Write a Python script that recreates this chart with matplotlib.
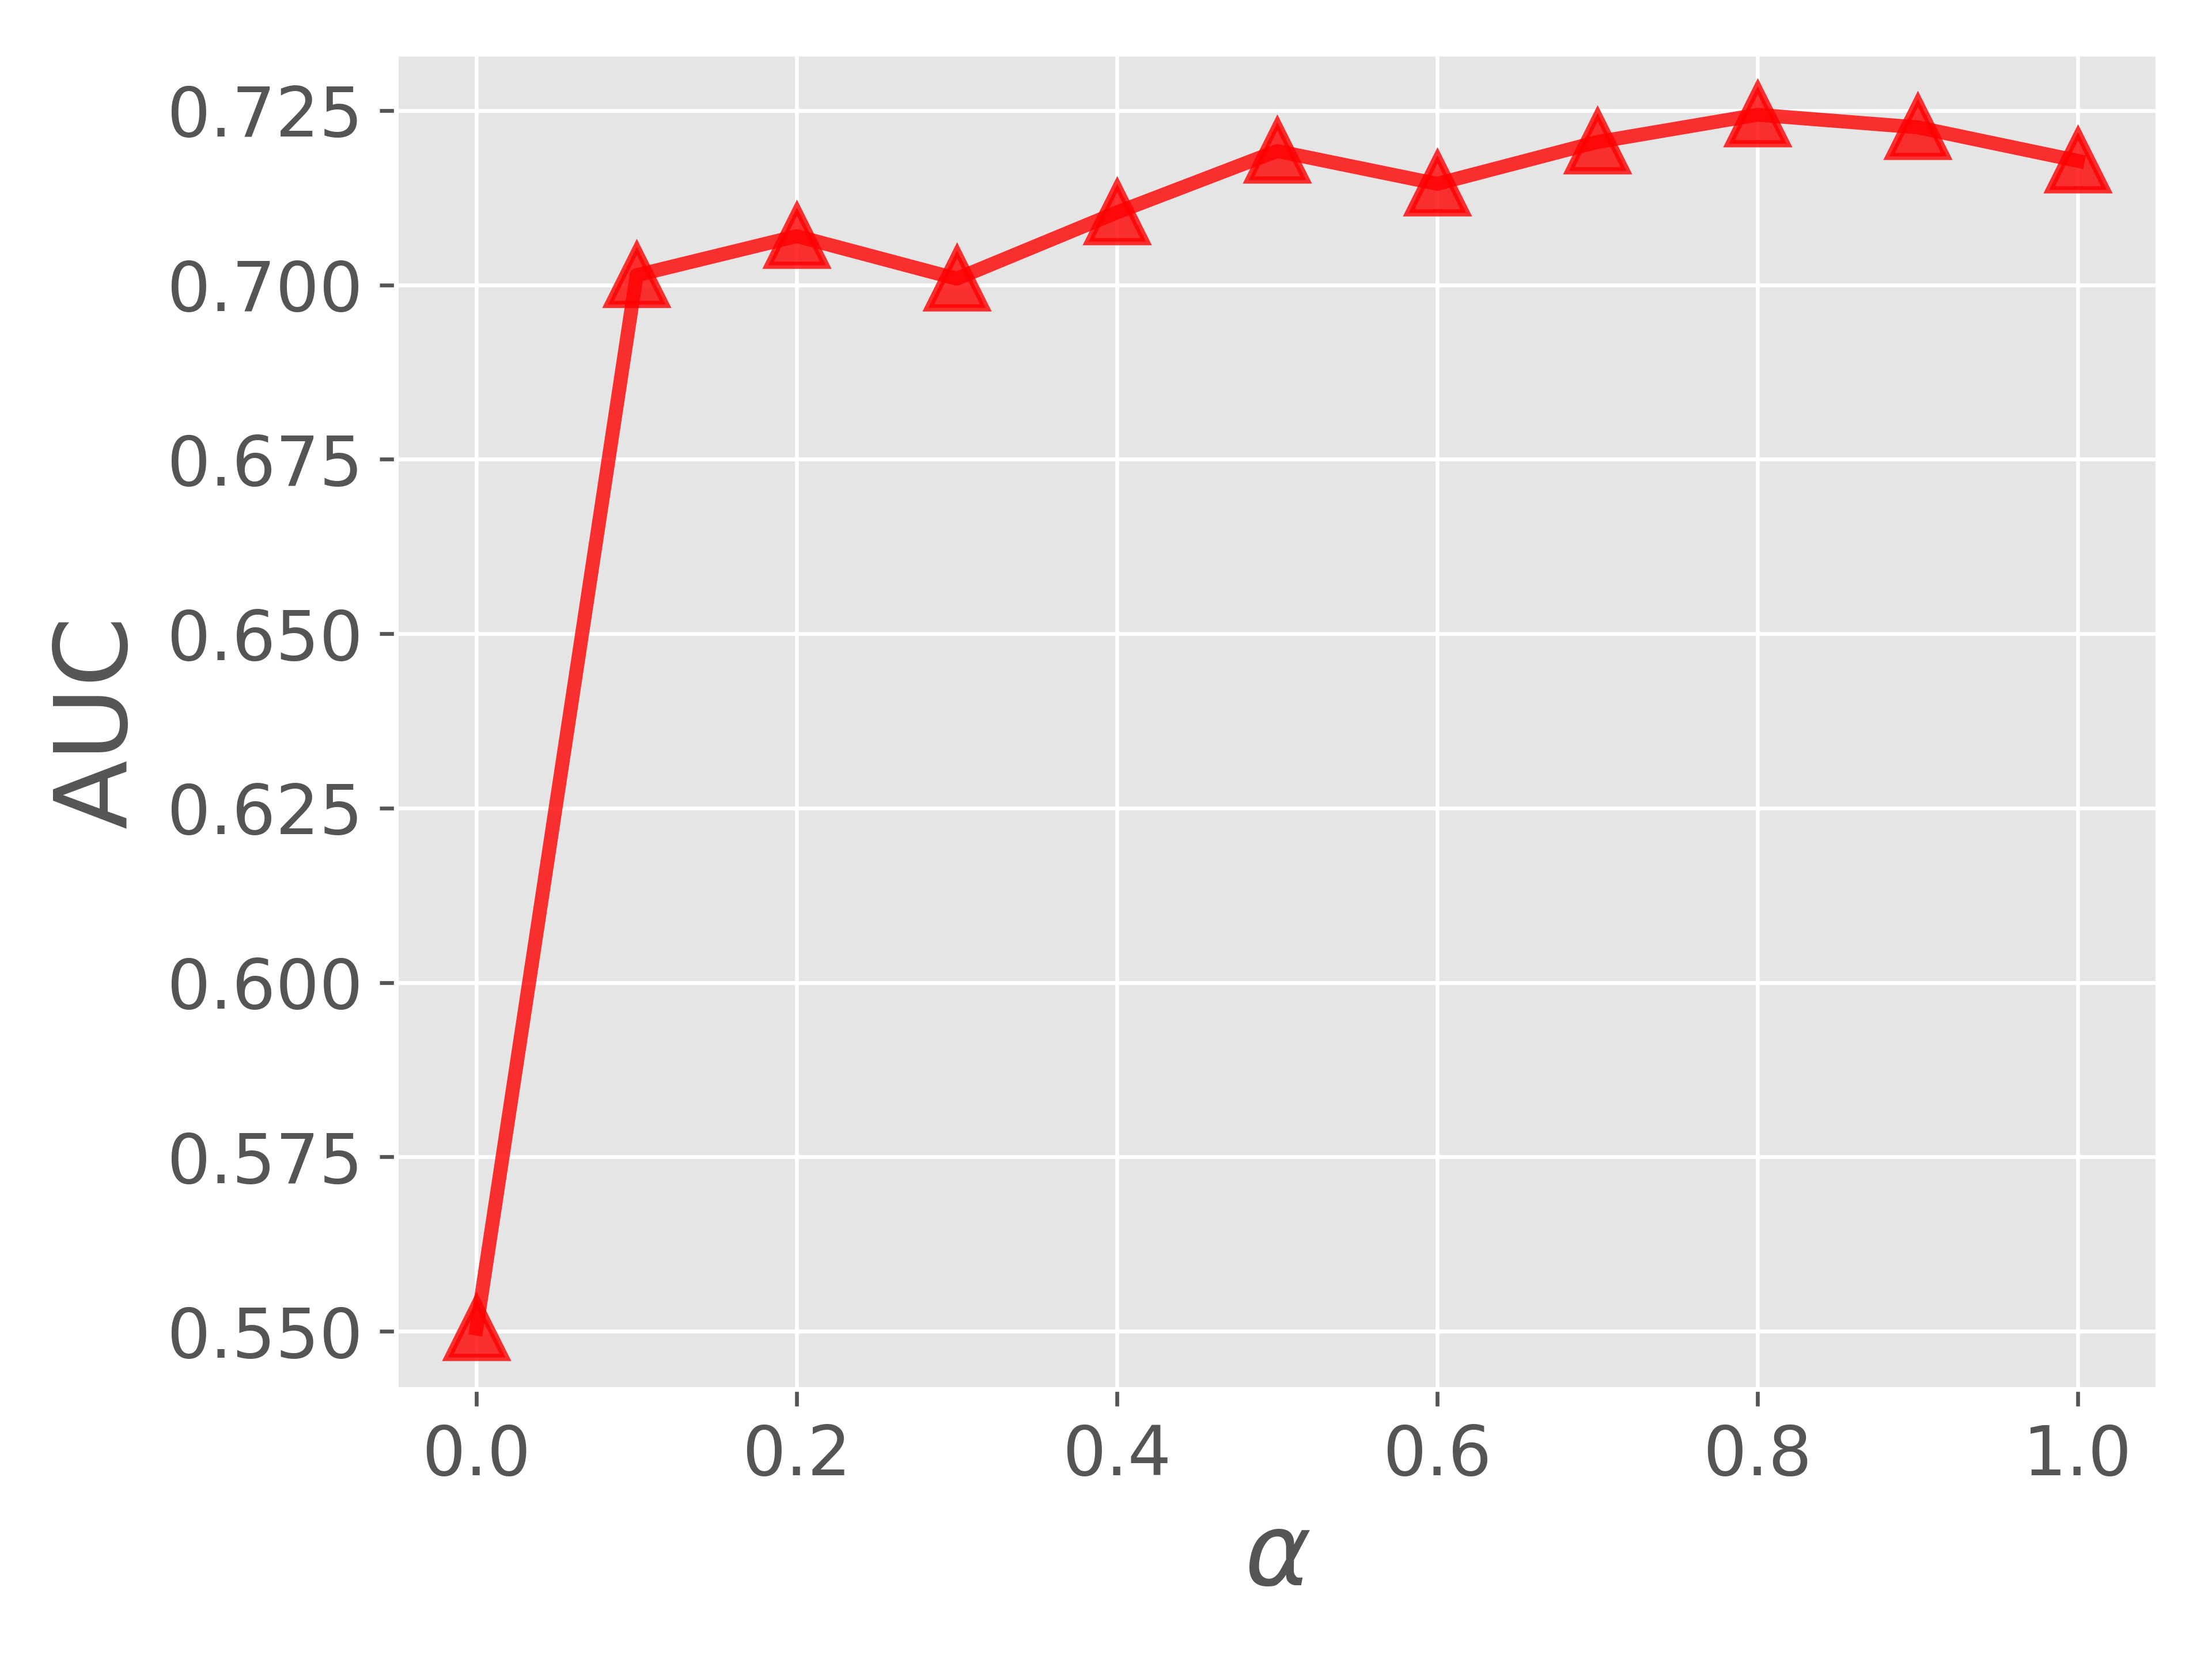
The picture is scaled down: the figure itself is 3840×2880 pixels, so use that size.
import matplotlib
matplotlib.use("Agg")
import matplotlib.pyplot as plt

# AUC for each alpha value
alphas = [0.0, 0.1, 0.2, 0.3, 0.4, 0.5, 0.6, 0.7, 0.8, 0.9, 1.0]
auc = [0.5504, 0.7014, 0.7070, 0.7009, 0.7104, 0.7192, 0.7145, 0.7205, 0.7244, 0.7226, 0.7178]

plt.style.use("ggplot")

fig, ax = plt.subplots(figsize=(6.4, 4.8), dpi=600)
fig.subplots_adjust(left=0.1792, right=0.9755, bottom=0.1626, top=0.9674)

ax.plot(alphas, auc, "r^-", alpha=0.8, linewidth=2.9, markersize=12, markeredgewidth=1.5)

ax.set_xlabel(r"$\alpha$", fontsize=21)
ax.set_ylabel("AUC", fontsize=21)
ax.tick_params(axis="both", labelsize=14.3)

fig.savefig("out.png", dpi=600)
